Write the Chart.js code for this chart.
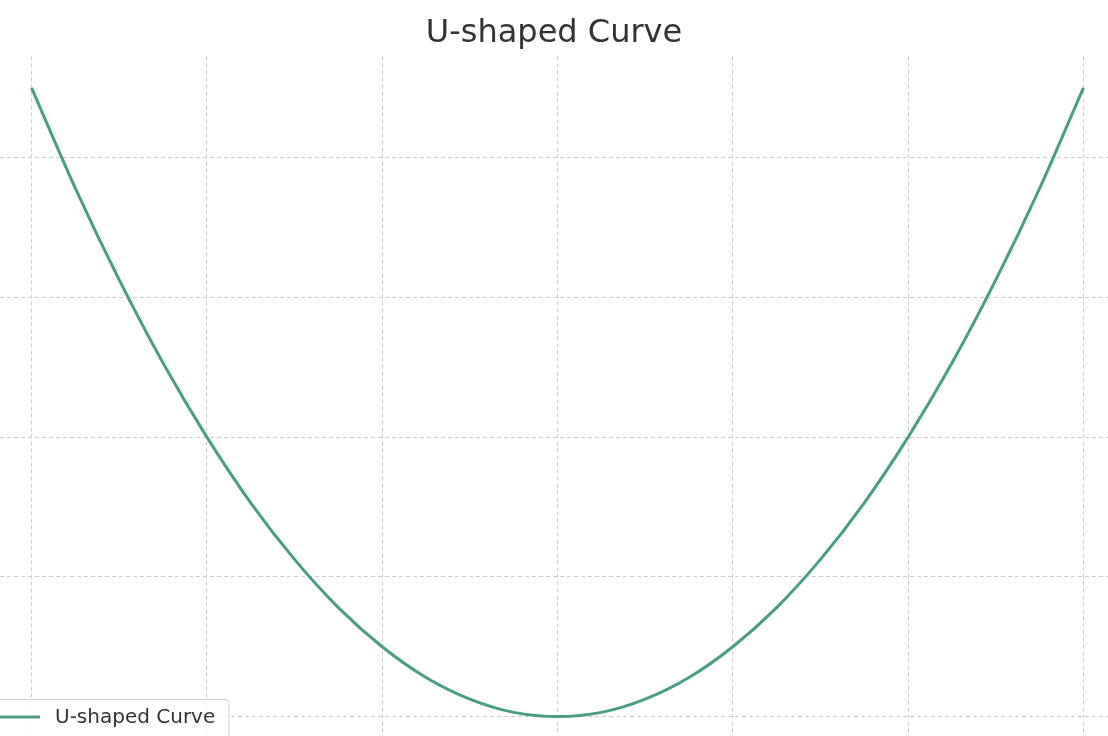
<!DOCTYPE html>
<html>
<head>
<meta charset="utf-8">
<script src="https://cdn.jsdelivr.net/npm/chart.js@4"></script>
<style>
  html, body { margin: 0; padding: 0; overflow: hidden; background: #fff; }
  #wrap { width: 1108px; height: 748px; }
</style>
</head>
<body>
<div id="wrap"><canvas id="chart"></canvas></div>
<script>
// values
const xValues = [-3, -2.75, -2.5, -2.25, -2, -1.75, -1.5, -1.25, -1, -0.75, -0.5, -0.25, 0,
                 0.25, 0.5, 0.75, 1, 1.25, 1.5, 1.75, 2, 2.25, 2.5, 2.75, 3];
const yValues = [9, 7.56, 6.25, 5.06, 4, 3.06, 2.25, 1.56, 1, 0.56, 0.25, 0.06, 0,
                 0.06, 0.25, 0.56, 1, 1.56, 2.25, 3.06, 4, 5.06, 6.25, 7.56, 9];
const xTicks = [-3, -2, -1, 0, 1, 2, 3];
const yTicks = [0, 2, 4, 6, 8];
const seriesName = 'U-shaped Curve';

const points = xValues.map((x, i) => ({ x: x, y: yValues[i] }));

// legend box in the lower left corner, drawn over the plot
const cornerLegend = {
    id: 'cornerLegend',
    afterDraw(chart) {
        const ctx = chart.ctx;
        ctx.save();
        ctx.fillStyle = 'rgba(255,255,255,0.85)';
        ctx.strokeStyle = '#d0d0d0';
        ctx.lineWidth = 1;
        ctx.beginPath();
        ctx.roundRect(-5, 699.5, 234, 45, 4);
        ctx.fill();
        ctx.stroke();
        ctx.strokeStyle = '#4a9e80';
        ctx.lineWidth = 3;
        ctx.beginPath();
        ctx.moveTo(0, 717);
        ctx.lineTo(40, 717);
        ctx.stroke();
        ctx.fillStyle = '#333';
        ctx.font = '20px "DejaVu Sans"';
        ctx.textBaseline = 'middle';
        ctx.fillText(seriesName, 55, 718);
        ctx.restore();
    }
};

new Chart(document.getElementById('chart'), {
    type: 'line',
    data: {
        datasets: [{
            label: seriesName,
            data: points,
            borderColor: '#4a9e80',
            borderWidth: 3,
            pointRadius: 0,
            tension: 0.4,
            cubicInterpolationMode: 'monotone'
        }]
    },
    options: {
        responsive: true,
        maintainAspectRatio: false,
        animation: false,
        layout: { padding: 0 },
        plugins: {
            legend: { display: false },
            tooltip: { enabled: false },
            title: {
                display: true,
                text: 'U-shaped Curve',
                color: '#333',
                font: { family: 'DejaVu Sans', size: 32, weight: 'normal' },
                padding: { top: 14, bottom: 4 }
            }
        },
        scales: {
            x: {
                type: 'linear',
                min: -3.18, max: 3.14,
                afterBuildTicks: axis => { axis.ticks = xTicks.map(v => ({ value: v })); },
                ticks: { display: false },
                border: { display: false, dash: [4, 3] },
                grid: { color: '#cccccc', drawTicks: false }
            },
            y: {
                min: -0.45, max: 9.45,
                afterBuildTicks: axis => { axis.ticks = yTicks.map(v => ({ value: v })); },
                ticks: { display: false },
                border: { display: false, dash: [4, 3] },
                grid: { color: '#cccccc', drawTicks: false }
            }
        }
    },
    plugins: [cornerLegend]
});
</script>
</body>
</html>
